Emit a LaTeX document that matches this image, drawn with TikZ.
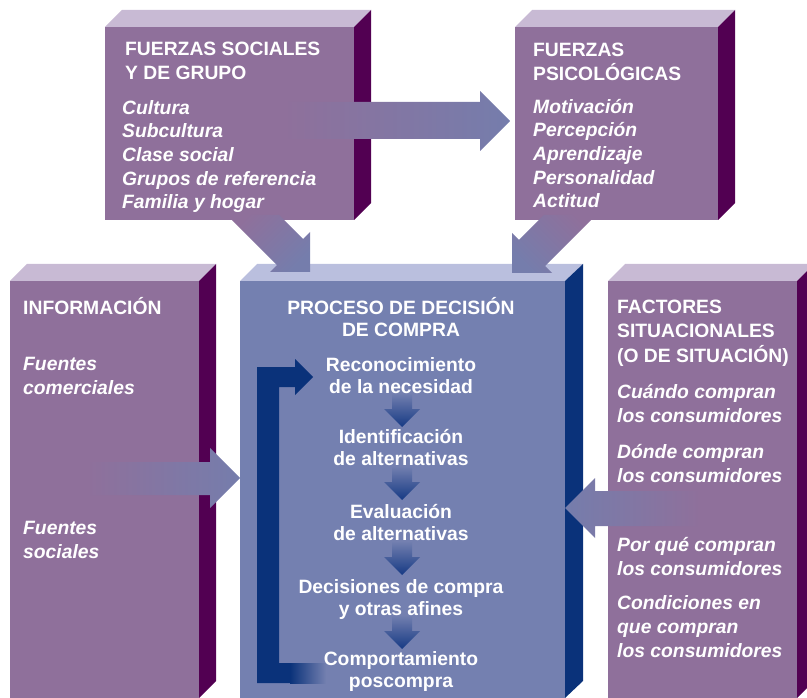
\documentclass[tikz,border=0pt]{standalone}
\usepackage{fontspec}
\setmainfont{Liberation Sans}

\definecolor{lilaFront}{RGB}{143,112,155}
\definecolor{lilaTop}{RGB}{200,186,212}
\definecolor{lilaSide}{RGB}{82,0,82}
\definecolor{azulFront}{RGB}{116,128,176}
\definecolor{azulTop}{RGB}{186,191,222}
\definecolor{azulSide}{RGB}{10,50,122}
\definecolor{flecha}{RGB}{117,125,172}
\definecolor{marino}{RGB}{22,58,132}

\begin{document}
\begin{tikzpicture}
  [x=1pt,y=-1pt,
   titulo/.style={text=white,inner sep=0,align=left,anchor=base west,font=\fontsize{19.3}{24.5}\selectfont\bfseries},
   lista/.style={text=white,inner sep=0,align=left,anchor=base west,font=\fontsize{19.3}{23.7}\selectfont\bfseries\itshape},
   paso/.style={text=white,inner sep=0,align=center,anchor=base,font=\fontsize{19.3}{22}\selectfont\bfseries}]
  \useasboundingbox (0,0) rectangle (807,698);

  % fuerzas sociales
  \fill[lilaFront] (105,27) rectangle (354,220);
  \fill[lilaTop] (105,27) -- (122,10) -- (371,10) -- (354,27) -- cycle;
  \fill[lilaSide] (354,27) -- (371,10) -- (371,203) -- (354,220) -- cycle;
  % fuerzas psicologicas
  \fill[lilaFront] (515,27) rectangle (718,220);
  \fill[lilaTop] (515,27) -- (532,10) -- (735,10) -- (718,27) -- cycle;
  \fill[lilaSide] (718,27) -- (735,10) -- (735,203) -- (718,220) -- cycle;
  % informacion
  \fill[lilaFront] (10,281) rectangle (199,698);
  \fill[lilaTop] (10,281) -- (27,264) -- (216,264) -- (199,281) -- cycle;
  \fill[lilaSide] (199,281) -- (216,264) -- (216,681) -- (199,698) -- cycle;
  % proceso de decision
  \fill[azulFront] (240,281) rectangle (565,698);
  \fill[azulTop] (240,281) -- (257,264) -- (583,264) -- (565,281) -- cycle;
  \fill[azulSide] (565,281) -- (583,264) -- (583,681) -- (565,698) -- cycle;
  % factores situacionales
  \fill[lilaFront] (608,281) rectangle (797,698);
  \fill[lilaTop] (608,281) -- (625,264) -- (814,264) -- (797,281) -- cycle;
  \fill[lilaSide] (797,281) -- (814,264) -- (814,681) -- (797,698) -- cycle;

  % flechas grandes
  \shade[left color=lilaFront,right color=flecha] (283,102) -- (480,102) -- (480,91) -- (510,121) -- (480,151) -- (480,139) -- (283,139) -- cycle;
  \shade[top color=lilaFront,bottom color=flecha,shading angle=45] (226.8,215) -- (279.2,215) -- (303.1,238.9) -- (310,232) -- (310,272) -- (270,272) -- (276.9,265.1) -- cycle;
  \shade[top color=lilaFront,bottom color=flecha,shading angle=-45] (543.8,215) -- (596.2,215) -- (545.1,266.1) -- (552,273) -- (512,273) -- (512,233) -- (518.9,239.9) -- cycle;
  \shade[left color=lilaFront,right color=flecha] (87,462) -- (210,462) -- (210,448) -- (240,478) -- (210,508) -- (210,495) -- (87,495) -- cycle;
  \shade[left color=flecha,right color=lilaFront] (700,491) -- (595,491) -- (595,478) -- (565,508) -- (595,538) -- (595,526) -- (700,526) -- cycle;

  % flechas del proceso
  \foreach \y in {393,466,541,615}
    \shade[top color=azulFront,bottom color=marino] (392,\y) -- (412,\y) -- (412,\y+16) -- (420,\y+16) -- (402,\y+34) -- (384,\y+16) -- (392,\y+16) -- cycle;
  \fill[azulSide] (257,367) -- (295,367) -- (295,359) -- (313,377) -- (295,395) -- (295,387) -- (279,387) -- (279,663) -- (291,663) -- (291,683) -- (257,683) -- cycle;
  \shade[left color=azulSide,right color=azulFront] (290,663) rectangle (326,683);

  % textos (anclados en la linea base de la ultima linea)
  \node[titulo] (socH) at (125,80) {FUERZAS SOCIALES\\Y DE GRUPO};
  \node[lista] (socL) at (122,209) {Cultura\\Subcultura\\Clase social\\Grupos de referencia\\Familia y hogar};
  \node[titulo] (psiH) at (533,81) {FUERZAS\\PSICOLÓGICAS};
  \node[lista] (psiL) at (533,208) {Motivación\\Percepción\\Aprendizaje\\Personalidad\\Actitud};
  \node[titulo] (infH) at (23,314) {INFORMACIÓN};
  \node[lista] (infA) at (23,394) {Fuentes\\comerciales};
  \node[lista] (infB) at (23,558) {Fuentes\\sociales};
  \node[titulo] (sitH) at (617,362) {FACTORES\\SITUACIONALES\\(O DE SITUACIÓN)};
  \node[lista] (sitA) at (617,422) {Cuándo compran\\los consumidores};
  \node[lista] (sitB) at (617,482) {Dónde compran\\los consumidores};
  \node[lista] (sitC) at (617,575) {Por qué compran\\los consumidores};
  \node[lista] (sitD) at (617,657) {Condiciones en\\que compran\\los consumidores};
  \node[paso] (decH) at (401,336) {PROCESO DE DECISIÓN\\DE COMPRA};
  \node[paso] (st1) at (401,393) {Reconocimiento\\de la necesidad};
  \node[paso] (st2) at (401,465) {Identificación\\de alternativas};
  \node[paso] (st3) at (401,540) {Evaluación\\de alternativas};
  \node[paso] (st4) at (401,615) {Decisiones de compra\\y otras afines};
  \node[paso] (st5) at (401,687) {Comportamiento\\poscompra};
\end{tikzpicture}
\end{document}
